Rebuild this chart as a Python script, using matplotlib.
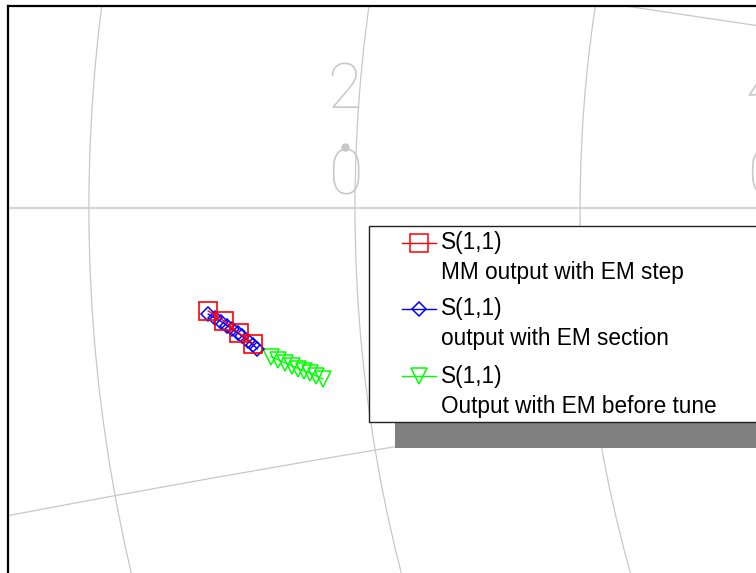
import numpy as np
import matplotlib
matplotlib.use("Agg")
import matplotlib.pyplot as plt
from matplotlib.patches import Circle, Rectangle
from matplotlib.lines import Line2D

# ── S(1,1) traces (reflection coefficient, real / imag) ─────────────────────
mm_step_re = [0.2999, 0.3036, 0.3070, 0.3101]
mm_step_im = [-0.0235, -0.0258, -0.0286, -0.0309]

em_section_re = [0.2999, 0.3014, 0.3029, 0.3042, 0.3054,
                 0.3066, 0.3077, 0.3090, 0.3101, 0.3111]
em_section_im = [-0.0242, -0.0251, -0.0259, -0.0268, -0.0277,
                 -0.0285, -0.0293, -0.0303, -0.0312, -0.0321]

before_tune_re = [0.3142, 0.3158, 0.3174, 0.3190, 0.3204,
                  0.3217, 0.3231, 0.3245, 0.3260]
before_tune_im = [-0.0339, -0.0346, -0.0353, -0.0360, -0.0366,
                  -0.0371, -0.0377, -0.0383, -0.0390]

legend_titles = ["S(1,1)", "S(1,1)", "S(1,1)"]
legend_notes = ["MM output with EM step",
                "output with EM section",
                "Output with EM before tune"]

# Smith grid visible in this zoomed window
r_circles = [1.75, 2.0, 2.25, 2.5]
x_arcs = [0.25, -0.25]
r_labels = {2.0: "2.0", 2.5: "4.0"}

GRID = "#c8c8c8"
W, H = 756, 573


def fx(px):
    return px / W


def fy(py):
    return 1 - py / H


fig = plt.figure(figsize=(7.56, 5.73), dpi=100)
fig.patch.set_facecolor("white")
ax = fig.add_axes([fx(8), fy(620), 792 / W, 614 / H])
ax.set_xlim(0.2543, 0.4347)
ax.set_ylim(-0.0939, 0.0460)
ax.set_xticks([])
ax.set_yticks([])
for side in ("right", "bottom"):
    ax.spines[side].set_visible(False)
for side in ("left", "top"):
    ax.spines[side].set_linewidth(1.6)
    ax.spines[side].set_color("black")

# grid: real axis, resistance circles, reactance arcs
ax.axhline(0, color="#d4d4d4", lw=1.5, zorder=1)
for r in r_circles:
    ax.add_patch(Circle((r / (1 + r), 0), 1 / (1 + r), fill=False,
                        ec=GRID, lw=0.9, zorder=1))
for x in x_arcs:
    ax.add_patch(Circle((1, 1 / x), 1 / abs(x), fill=False,
                        ec=GRID, lw=0.9, zorder=1))

# resistance labels, digits stacked vertically
for r, lab in r_labels.items():
    g0 = (r - 1) / (r + 1) - 0.0023
    kw = dict(ha="center", va="center", color=GRID, fontsize=45,
              family=["Roboto", "DejaVu Sans"], fontweight="light", zorder=2)
    ax.text(g0, 0.0267, lab[0], **kw)
    ax.text(g0 + 0.0002, 0.0069, lab[2], **kw)
    ax.plot([g0], [0.0139], "o", color=GRID, ms=5, zorder=2)

# traces
ax.plot(before_tune_re, before_tune_im, "-v", color="#00ff00", ms=11.5,
        mfc="none", mec="#00ff00", mew=1.1, lw=1, zorder=3)
ax.plot(em_section_re, em_section_im, "-D", color="#0000ff", ms=7.4,
        mfc="none", mec="#0000ff", mew=1.1, lw=1, zorder=4)
ax.plot(mm_step_re, mm_step_im, "-s", color="#ff0000", ms=12.5,
        mfc="none", mec="#ff0000", mew=1.2, lw=1, zorder=5)

# ── legend box (drawn by hand so the marker sits on the first line) ───────
fig.add_artist(Rectangle((fx(395), fy(448)), fx(830) - fx(395), fy(252) - fy(448),
                         transform=fig.transFigure, fc="#808080", ec="none", zorder=6))
fig.add_artist(Rectangle((fx(369), fy(422)), fx(830) - fx(369), fy(226) - fy(422),
                         transform=fig.transFigure, fc="white", ec="#222222",
                         lw=1, zorder=7))

styles = [("#ff0000", "s", 12.5), ("#0000ff", "D", 7.4), ("#00ff00", "v", 11.5)]
rows = [243, 309, 376]
for (col, mk, ms), py, title, note in zip(styles, rows, legend_titles, legend_notes):
    fig.add_artist(Line2D([fx(402), fx(436)], [fy(py), fy(py)], color=col, lw=1,
                          transform=fig.transFigure, zorder=8))
    fig.add_artist(Line2D([fx(419)], [fy(py)], marker=mk, ms=ms, mfc="none",
                          mec=col, mew=1.1, ls="none",
                          transform=fig.transFigure, zorder=8))
    fig.text(fx(441), fy(py), title, ha="left", va="center", fontsize=16.3,
             family="Liberation Sans", color="black", zorder=8)
    fig.text(fx(441), fy(py + 30), note, ha="left", va="center", fontsize=16.3,
             family="Liberation Sans", color="black", zorder=8)

fig.savefig("out.png", dpi=100, facecolor="white")
